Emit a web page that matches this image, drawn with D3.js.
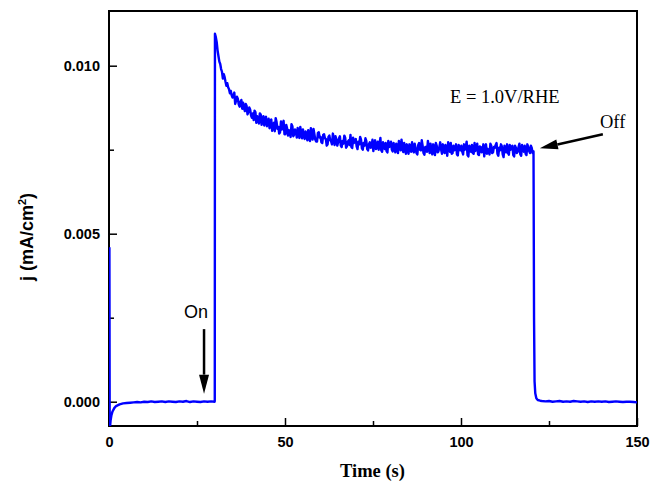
<!DOCTYPE html>
<html>
<head>
<meta charset="utf-8">
<script src="https://cdn.jsdelivr.net/npm/d3@7"></script>
<style>
  body { margin: 0; background: #fff; }
  svg { display: block; }
</style>
</head>
<body>
<svg id="chart" width="651" height="481"></svg>
<script>
'use strict';

// values are in 1e-3 mA/cm2
// dark period before switching on: [time, j]
var darkStart = [
    [0.12, 4.6], [0.2, -0.78], [0.3, -0.74], [0.45, -0.56], [0.7, -0.40], [1.0, -0.29],
    [1.5, -0.19], [2, -0.13], [3, -0.08], [4, -0.05], [5, -0.04], [6, -0.03],
    [7, -0.02], [8, -0.01], [9, -0.02], [10, 0.0], [11, -0.01], [12, 0.01],
    [13, -0.01], [14, 0.0], [15, 0.01], [16, -0.01], [17, 0.01], [18, 0.0],
    [19, -0.01], [20, 0.01], [21, 0.0], [22, 0.02], [23, -0.01], [24, 0.01],
    [25, 0.0], [26, -0.01], [27, 0.01], [28, 0.0], [29, 0.01], [30, 0.0], [30.05, 0.02]
];

// illuminated period, sampled every 0.5 s from onStart
var onStart = 30.1,
    onStep = 0.5;
var onValues = [
    10.95, 10.70, 10.28, 10.05, 9.82, 9.75, 9.52, 9.48, 9.30, 9.25,
    9.05, 9.20, 8.95, 9.02, 8.78, 8.98, 8.90, 8.65, 8.80, 8.62,
    8.70, 8.45, 8.38, 8.62, 8.50, 8.28, 8.55, 8.36, 8.22, 8.48,
    8.30, 8.14, 8.40, 8.25, 8.05, 8.33, 8.18, 8.02, 8.10, 8.36,
    7.96, 8.14, 8.08, 7.88, 8.20, 7.95, 8.06, 8.15, 7.85, 8.00,
    8.10, 7.82, 7.98, 8.08, 7.76, 7.90, 8.12, 7.80, 7.74, 8.02,
    7.88, 7.70, 7.96, 7.82, 7.66, 7.92, 7.75, 7.98, 7.64, 7.80,
    7.72, 7.90, 7.58, 7.68, 7.86, 7.60, 7.78, 7.94, 7.55, 7.70,
    7.82, 7.52, 7.66, 7.80, 7.50, 7.62, 7.76, 7.48, 7.72, 7.58,
    7.46, 7.78, 7.60, 7.50, 7.85, 7.44, 7.64, 7.70, 7.42, 7.58,
    7.74, 7.45, 7.55, 7.68, 7.40, 7.62, 7.80, 7.43, 7.52, 7.66,
    7.38, 7.60, 7.72, 7.42, 7.55, 7.36, 7.70, 7.48, 7.62, 7.35,
    7.58, 7.76, 7.40, 7.50, 7.66, 7.34, 7.62, 7.45, 7.72, 7.38,
    7.52, 7.64, 7.32, 7.58, 7.70, 7.40, 7.48, 7.66, 7.33, 7.56,
    7.62, 7.36, 7.50, 7.74, 7.30, 7.54, 7.64, 7.38, 7.46, 7.68,
    7.34, 7.58, 7.44, 7.30, 7.66, 7.52, 7.36, 7.62, 7.42, 7.56,
    7.70, 7.32, 7.48, 7.60, 7.28, 7.54, 7.66, 7.35, 7.50, 7.62,
    7.30, 7.56, 7.44, 7.68, 7.32, 7.52, 7.62, 7.34, 7.58, 7.40,
    7.55, 7.45
];

// readings in between, a quarter second after each of the above
var onValuesMid = [
    10.85, 10.45, 10.12, 9.90, 9.62, 9.66, 9.40, 9.36, 9.18, 9.12,
    9.12, 8.86, 9.08, 8.85, 8.92, 8.72, 8.74, 8.86, 8.55, 8.76,
    8.52, 8.58, 8.66, 8.30, 8.42, 8.58, 8.24, 8.50, 8.44, 8.20,
    8.42, 8.36, 8.06, 8.30, 8.44, 8.12, 7.98, 8.34, 8.22, 7.96,
    8.24, 7.92, 8.00, 8.26, 7.90, 8.10, 7.86, 7.98, 8.18, 7.84,
    7.92, 8.04, 7.78, 7.86, 8.14, 7.80, 7.96, 7.74, 8.00, 7.86,
    7.72, 7.94, 7.84, 7.62, 7.88, 7.78, 7.66, 7.84, 7.90, 7.62,
    7.84, 7.62, 7.76, 7.92, 7.56, 7.74, 7.64, 7.58, 7.86, 7.78,
    7.60, 7.74, 7.88, 7.54, 7.70, 7.84, 7.52, 7.66, 7.56, 7.80,
    7.68, 7.52, 7.74, 7.66, 7.48, 7.72, 7.52, 7.46, 7.76, 7.62,
    7.50, 7.70, 7.42, 7.60, 7.76, 7.48, 7.56, 7.70, 7.38, 7.54,
    7.66, 7.44, 7.52, 7.68, 7.40, 7.64, 7.50, 7.78, 7.40, 7.58,
    7.44, 7.60, 7.68, 7.36, 7.56, 7.70, 7.42, 7.58, 7.50, 7.66,
    7.40, 7.56, 7.72, 7.44, 7.38, 7.62, 7.54, 7.36, 7.64, 7.48,
    7.44, 7.66, 7.58, 7.34, 7.62, 7.44, 7.40, 7.70, 7.56, 7.36,
    7.60, 7.42, 7.66, 7.56, 7.38, 7.46, 7.68, 7.40, 7.58, 7.64,
    7.38, 7.56, 7.66, 7.36, 7.62, 7.42, 7.40, 7.64, 7.58, 7.34,
    7.62, 7.40, 7.58, 7.36, 7.64, 7.44, 7.38, 7.66, 7.46, 7.62,
    7.40
];

// dark period after switching off: [time, j]
var darkEnd = [
    [120.75, 2.5], [120.9, 0.6], [121.1, 0.25], [121.4, 0.1], [121.8, 0.05],
    [122.5, 0.03], [123, 0.02], [124, 0.01], [125, 0.02], [126, 0.0],
    [127, 0.01], [128, 0.02], [129, 0.0], [130, 0.01], [131, 0.0],
    [132, 0.02], [133, 0.01], [134, 0.0], [135, 0.01], [136, -0.01],
    [137, 0.01], [138, 0.0], [139, 0.01], [140, 0.0], [141, 0.01],
    [142, -0.01], [143, 0.0], [144, 0.01], [145, 0.0], [146, -0.01],
    [147, 0.0], [148, 0.0], [149, -0.01], [150, -0.02]
];

var xMajor = [0, 50, 100, 150],
    xMinor = [25, 75, 125],
    yMajor = [0, 0.005, 0.010],
    yMinor = [0.0025, 0.0075];

(function() {
    var onPhase = [];
    onValues.forEach(function(v, i) {
        onPhase.push({ t: onStart + i * onStep, j: v / 1000 });
        if (i < onValuesMid.length) {
            onPhase.push({ t: onStart + i * onStep + onStep / 2, j: onValuesMid[i] / 1000 });
        }
    });

    var series = darkStart.map(function(d) { return { t: d[0], j: d[1] / 1000 }; })
        .concat(onPhase)
        .concat(darkEnd.map(function(d) { return { t: d[0], j: d[1] / 1000 }; }));

    var svg = d3.select('#chart'),
        plotLeft = 109, plotRight = 637, plotTop = 11, plotBottom = 426;

    var x = d3.scaleLinear().domain([0, 150]).range([plotLeft, plotRight]);
    var y = d3.scaleLinear().domain([-0.000723, 0.011628]).range([plotBottom, plotTop]);

    svg.append('defs').append('clipPath').attr('id', 'plotclip')
        .append('rect')
        .attr('x', plotLeft).attr('y', plotTop)
        .attr('width', plotRight - plotLeft).attr('height', plotBottom - plotTop);

    // axes, ticks pointing inwards
    var axisFont = 'Arial, "Liberation Sans", sans-serif',
        serif = '"Liberation Serif", "Times New Roman", serif';

    function styleAxis(g) {
        g.select('.domain').remove();
        g.selectAll('line').attr('stroke', '#000').attr('stroke-width', 1.5);
        g.selectAll('text')
            .attr('fill', '#000')
            .style('font-family', axisFont)
            .style('font-size', '14.5px')
            .style('font-weight', 'bold');
    }

    svg.append('g')
        .attr('transform', 'translate(0,' + plotBottom + ')')
        .call(d3.axisBottom(x).tickValues(xMajor).tickSizeInner(-8).tickSizeOuter(0).tickPadding(11).tickFormat(d3.format('d')))
        .call(styleAxis);

    svg.append('g')
        .attr('transform', 'translate(0,' + plotBottom + ')')
        .call(d3.axisBottom(x).tickValues(xMinor).tickSizeInner(-5).tickSizeOuter(0).tickFormat(''))
        .call(styleAxis);

    svg.append('g')
        .attr('transform', 'translate(' + plotLeft + ',0)')
        .call(d3.axisLeft(y).tickValues(yMajor).tickSizeInner(-8).tickSizeOuter(0).tickPadding(9).tickFormat(d3.format('.3f')))
        .call(styleAxis);

    svg.append('g')
        .attr('transform', 'translate(' + plotLeft + ',0)')
        .call(d3.axisLeft(y).tickValues(yMinor).tickSizeInner(-5).tickSizeOuter(0).tickFormat(''))
        .call(styleAxis);

    // frame
    svg.append('rect')
        .attr('x', plotLeft).attr('y', plotTop)
        .attr('width', plotRight - plotLeft).attr('height', plotBottom - plotTop)
        .attr('fill', 'none')
        .attr('stroke', '#000')
        .attr('stroke-width', 2);

    // data line, drawn over the frame like the original
    var line = d3.line()
        .x(function(d) { return x(d.t); })
        .y(function(d) { return y(d.j); });

    svg.append('path')
        .datum(series)
        .attr('clip-path', 'url(#plotclip)')
        .attr('d', line)
        .attr('fill', 'none')
        .attr('stroke', '#0000ff')
        .attr('stroke-width', 2.4)
        .attr('stroke-linejoin', 'round');

    // axis titles
    svg.append('text')
        .attr('x', (plotLeft + plotRight) / 2 - 0.5)
        .attr('y', 477)
        .attr('text-anchor', 'middle')
        .style('font-family', serif)
        .style('font-size', '18.5px')
        .style('font-weight', 'bold')
        .text('Time (s)');

    var ylab = svg.append('text')
        .attr('transform', 'translate(33,237) rotate(-90)')
        .attr('text-anchor', 'middle')
        .style('font-family', axisFont)
        .style('font-size', '18px')
        .style('font-weight', 'bold');
    ylab.append('tspan').text('j (mA/cm');
    ylab.append('tspan').attr('dy', -7).style('font-size', '11px').text('2');
    ylab.append('tspan').attr('dy', 7).text(')');

    // annotations
    svg.append('text')
        .attr('x', 450).attr('y', 103)
        .style('font-family', serif)
        .style('font-size', '18.5px')
        .text('E = 1.0V/RHE');

    svg.append('text')
        .attr('x', 600).attr('y', 128)
        .style('font-family', serif)
        .style('font-size', '18.5px')
        .text('Off');

    svg.append('text')
        .attr('x', 184).attr('y', 318)
        .style('font-family', axisFont)
        .style('font-size', '18px')
        .text('On');

    function arrow(x1, y1, x2, y2, len, half) {
        var dx = x2 - x1, dy = y2 - y1,
            d = Math.sqrt(dx * dx + dy * dy),
            ux = dx / d, uy = dy / d,
            bx = x2 - ux * len, by = y2 - uy * len;
        svg.append('line')
            .attr('x1', x1).attr('y1', y1)
            .attr('x2', bx).attr('y2', by)
            .attr('stroke', '#000')
            .attr('stroke-width', 2.5);
        svg.append('path')
            .attr('d', 'M' + x2 + ',' + y2 +
                'L' + (bx - uy * half) + ',' + (by + ux * half) +
                'L' + (bx + uy * half) + ',' + (by - ux * half) + 'Z')
            .attr('fill', '#000');
    }

    arrow(x(27), y(0.00216), x(27), y(0.00024), 19, 5);
    arrow(x(140.3), y(0.00796), x(122.4), y(0.00754), 18, 5);
})();
</script>
</body>
</html>
